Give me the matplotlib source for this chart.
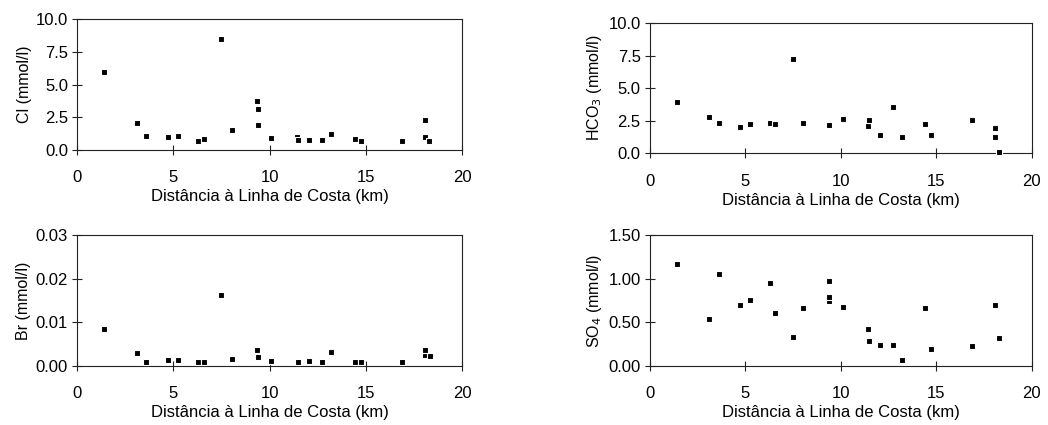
import matplotlib
matplotlib.use("Agg")
import matplotlib.pyplot as plt
from matplotlib.ticker import FormatStrFormatter

plt.rcParams['font.family'] = ['Liberation Sans', 'DejaVu Sans']

# distância à linha de costa (km) de cada ponto de água
dist_cl = [1.42, 3.10, 3.60, 4.71, 5.27, 6.27, 6.57, 7.50, 8.04, 9.36, 9.39, 9.40,
           10.10, 11.42, 11.49, 12.06, 12.75, 13.19, 14.43, 14.74, 16.90, 18.07, 18.07, 18.30]
cl = [5.93, 2.04, 1.09, 0.99, 1.04, 0.71, 0.86, 8.47, 1.50, 3.74, 3.11, 1.93,
      0.92, 1.00, 0.75, 0.76, 0.76, 1.20, 0.82, 0.66, 0.69, 1.00, 2.29, 0.69]

dist_hco3 = [1.42, 3.10, 3.60, 4.71, 5.27, 6.27, 6.57, 7.50, 8.04, 9.39,
             10.10, 11.42, 11.49, 12.06, 12.75, 13.19, 14.43, 14.74, 16.88, 18.07, 18.07, 18.31]
hco3 = [3.95, 2.76, 2.30, 2.02, 2.25, 2.30, 2.25, 7.20, 2.35, 2.19,
        2.65, 2.10, 2.53, 1.38, 3.52, 1.23, 2.25, 1.43, 2.60, 1.96, 1.27, 0.08]

dist_br = [1.42, 3.10, 3.60, 4.71, 5.27, 6.27, 6.57, 7.50, 8.04, 9.36, 9.39,
           10.10, 11.49, 12.06, 12.75, 13.19, 14.43, 14.74, 16.88, 18.07, 18.07, 18.31]
br = [0.0085, 0.0029, 0.0010, 0.0013, 0.0014, 0.0009, 0.0010, 0.0163, 0.0016, 0.0036, 0.0020,
      0.0012, 0.0010, 0.0011, 0.0009, 0.0031, 0.0010, 0.0009, 0.0009, 0.0025, 0.0037, 0.0023]

dist_so4 = [1.42, 3.10, 3.60, 4.71, 5.27, 6.27, 6.57, 7.50, 8.04, 9.36, 9.39, 9.39,
            10.10, 11.42, 11.49, 12.06, 12.75, 13.19, 14.43, 14.74, 16.88, 18.07, 18.31]
so4 = [1.17, 0.54, 1.06, 0.70, 0.76, 0.95, 0.61, 0.33, 0.67, 0.97, 0.74, 0.79,
       0.68, 0.42, 0.29, 0.24, 0.24, 0.07, 0.67, 0.20, 0.23, 0.70, 0.32]

xlabel = 'Distância à Linha de Costa (km)'

paineis = [
    ([0.0735, 0.647, 0.3674, 0.308], dist_cl, cl, 'Cl (mmol/l)', 10.0, 2.5, '%.1f'),
    ([0.620, 0.639, 0.3645, 0.307], dist_hco3, hco3, 'HCO$_3$ (mmol/l)', 10.0, 2.5, '%.1f'),
    ([0.0735, 0.1388, 0.3674, 0.308], dist_br, br, 'Br (mmol/l)', 0.03, 0.01, '%.2f'),
    ([0.620, 0.1388, 0.3645, 0.308], dist_so4, so4, 'SO$_4$ (mmol/l)', 1.5, 0.5, '%.2f'),
]

fig = plt.figure(figsize=(10.48, 4.25), dpi=100)

for pos, x, y, ylab, ymax, ystep, fmt in paineis:
    ax = fig.add_axes(pos)
    ax.plot(x, y, ls='none', marker='s', ms=5, mfc='black', mec='white', mew=0.8,
            clip_on=False, zorder=5)
    ax.set_xlim(0, 20)
    ax.set_ylim(0, ymax)
    ax.set_xticks([0, 5, 10, 15, 20])
    n = int(round(ymax / ystep))
    ax.set_yticks([i * ystep for i in range(n + 1)])
    ax.yaxis.set_major_formatter(FormatStrFormatter(fmt))
    ax.tick_params(direction='inout', length=7, width=0.8, labelsize=12, color='#222222')
    ax.tick_params(axis='x', pad=11)
    ax.tick_params(axis='y', pad=3)
    for s in ax.spines.values():
        s.set_linewidth(0.8)
        s.set_color('#222222')
    ax.set_xlabel(xlabel, fontsize=12, labelpad=3)
    ax.set_ylabel(ylab, fontsize=11.5, labelpad=3)

fig.savefig('out.png', dpi=100)
